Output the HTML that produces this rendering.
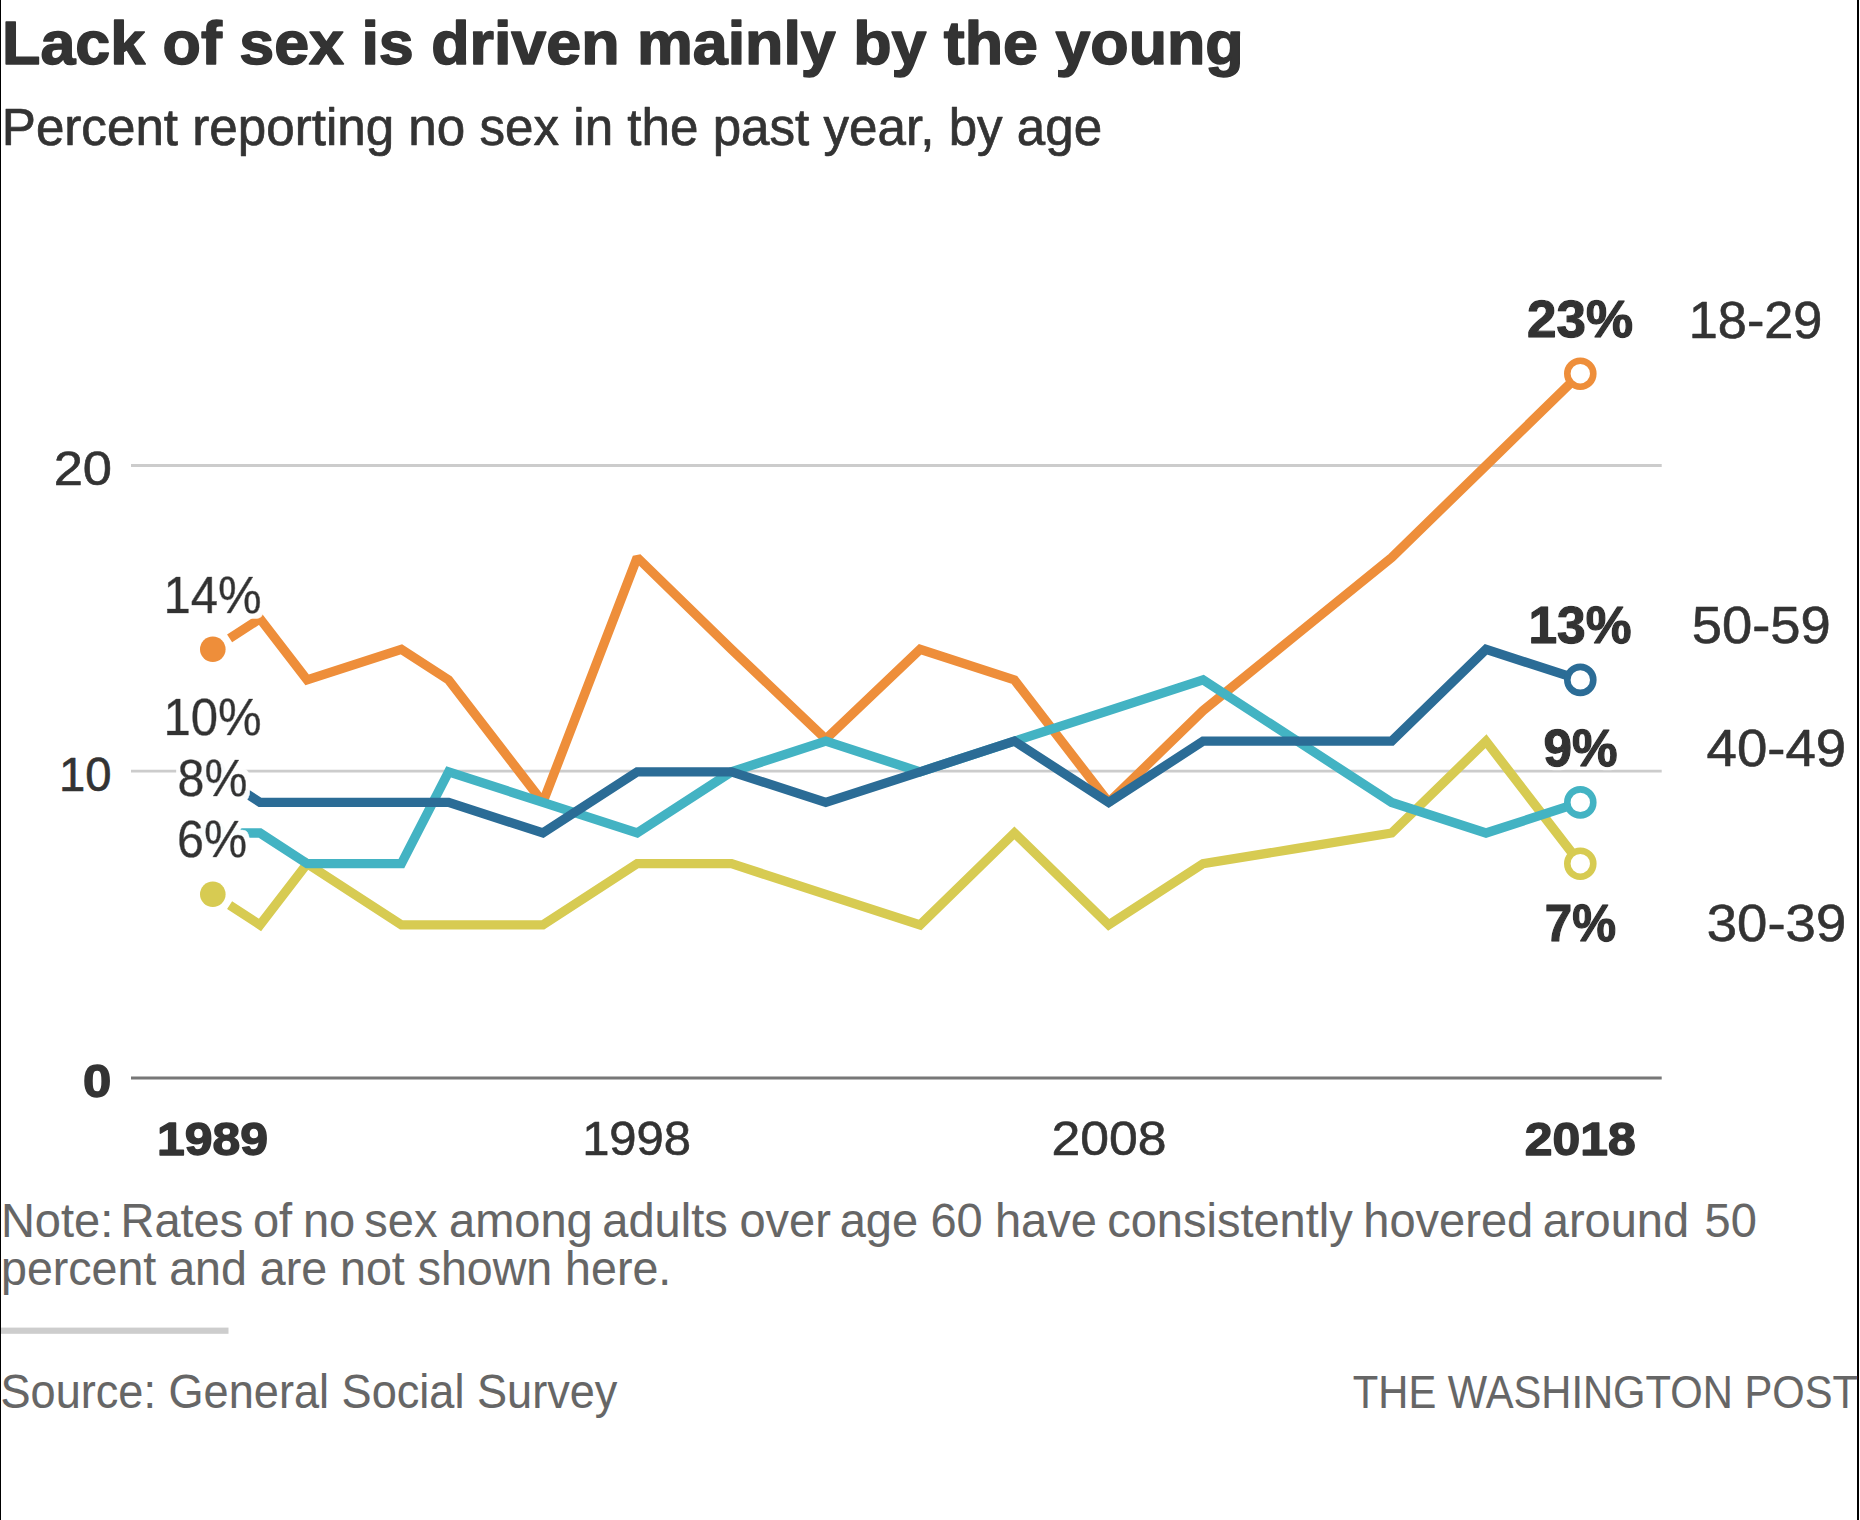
<!DOCTYPE html>
<html lang="en">
<head>
<meta charset="utf-8">
<title>Lack of sex is driven mainly by the young</title>
<style>
html,body{margin:0;padding:0;background:#fff}
body{width:1860px;height:1520px;overflow:hidden;position:relative}
svg{display:block;position:absolute;left:0;top:0}
svg text{font-family:"Liberation Sans", sans-serif;white-space:pre}
</style>
</head>
<body>
<svg width="1860" height="1520" viewBox="0 0 1860 1520" role="img" aria-label="Line chart: percent reporting no sex in the past year, by age, 1989 to 2018">
<rect x="0" y="0" width="1860" height="1520" fill="#fff"/>
<rect x="0" y="0" width="1" height="1520" fill="#000"/>
<rect x="1857" y="0" width="2" height="1520" fill="#000"/>
<defs><filter id="halo" x="-25%" y="-25%" width="150%" height="150%"><feMorphology in="SourceAlpha" operator="dilate" radius="4.5" result="d"/><feGaussianBlur in="d" stdDeviation="0.7" result="db"/><feFlood flood-color="#fff" flood-opacity="0.97"/><feComposite in2="db" operator="in" result="h"/><feMerge><feMergeNode in="h"/><feMergeNode in="SourceGraphic"/></feMerge></filter><filter id="halo2" x="-25%" y="-25%" width="150%" height="150%"><feMorphology in="SourceAlpha" operator="dilate" radius="3" result="d"/><feGaussianBlur in="d" stdDeviation="0.7" result="db"/><feFlood flood-color="#fff" flood-opacity="0.8"/><feComposite in2="db" operator="in" result="h"/><feMerge><feMergeNode in="h"/><feMergeNode in="SourceGraphic"/></feMerge></filter></defs>
<!-- chart: gridlines, series lines, markers -->
<g id="chart">
<g stroke="#ccc" stroke-width="2.8"><line x1="131" x2="1661.7" y1="465.5" y2="465.5"/><line x1="131" x2="1661.7" y1="771.2" y2="771.2"/></g>
<line x1="131" x2="1661.7" y1="1078" y2="1078" stroke="#777" stroke-width="3"/>
<path d="M229.6 638.4 L260.0 618.7 L307.1 679.9 L401.4 649.3 L448.6 679.9 L542.9 802.4 L637.2 557.5 L731.5 649.3 L825.8 739.0 L920.1 649.3 L1014.4 679.9 L1108.7 802.4 L1203.1 710.6 L1297.4 634.0 L1391.7 557.5 L1486.0 465.6 L1580.3 373.7" fill="none" stroke="#EE8E3A" stroke-width="9.3" stroke-linejoin="miter" stroke-miterlimit="1.45"/>
<path d="M229.6 905.2 L260.0 924.9 L307.1 863.7 L401.4 924.9 L448.6 924.9 L542.9 924.9 L637.2 863.7 L731.5 863.7 L825.8 894.3 L920.1 924.9 L1014.4 833.0 L1108.7 924.9 L1203.1 863.7 L1297.4 848.4 L1391.7 833.0 L1486.0 741.2 L1580.3 863.7" fill="none" stroke="#D7CB52" stroke-width="9.3" stroke-linejoin="miter" stroke-miterlimit="1.7"/>
<path d="M232.8 833.0 L260.0 833.0 L307.1 863.7 L401.4 863.7 L448.6 771.8 L542.9 802.4 L637.2 833.0 L731.5 771.8 L825.8 741.2 L920.1 771.8 L1014.4 741.2 L1108.7 710.6 L1203.1 679.9 L1297.4 741.2 L1391.7 802.4 L1486.0 833.0 L1580.3 802.4" fill="none" stroke="#43B3C3" stroke-width="9.3" stroke-linejoin="miter" stroke-miterlimit="1.7"/>
<path d="M229.6 782.7 L260.0 802.4 L307.1 802.4 L401.4 802.4 L448.6 802.4 L542.9 833.0 L637.2 771.8 L731.5 771.8 L825.8 802.4 L920.1 771.8 L1014.4 741.2 L1108.7 802.4 L1203.1 741.2 L1297.4 741.2 L1391.7 741.2 L1486.0 649.3 L1580.3 679.9" fill="none" stroke="#2B6C96" stroke-width="9.3" stroke-linejoin="miter" stroke-miterlimit="1.7"/>
<circle cx="212.8" cy="649.3" r="12.8" fill="#EE8E3A"/>
<circle cx="212.8" cy="894.3" r="12.8" fill="#D7CB52"/>
<circle cx="212.8" cy="833.0" r="12.8" fill="#43B3C3"/>
<circle cx="212.8" cy="771.8" r="12.8" fill="#2B6C96"/>
<circle cx="1580.3" cy="373.7" r="13" fill="#fff" stroke="#EE8E3A" stroke-width="6.6"/>
<circle cx="1580.3" cy="863.7" r="13" fill="#fff" stroke="#D7CB52" stroke-width="6.6"/>
<circle cx="1580.3" cy="802.4" r="13" fill="#fff" stroke="#43B3C3" stroke-width="6.6"/>
<circle cx="1580.3" cy="679.9" r="13" fill="#fff" stroke="#2B6C96" stroke-width="6.6"/>
</g>
<!-- footer rule -->
<rect x="1" y="1327.6" width="227.5" height="6.2" fill="#cdcdcd"/>
<!-- text -->
<g id="labels">
<text transform="translate(2.07 63.85) scale(1.0357 1)" font-weight="bold" font-size="60.61" fill="#333" stroke="#333" stroke-width="1.5" stroke-linejoin="round">Lack of sex is driven mainly by the young</text>
<text transform="translate(1.77 144.75) scale(1.0029 1)" font-weight="normal" font-size="51.02" fill="#333" stroke="#333" stroke-width="0.7" stroke-linejoin="round">Percent reporting no sex in the past year, by age</text>
<text transform="translate(53.67 484.80) scale(1.0935 1)" font-weight="normal" font-size="47.97" fill="#333" stroke="#333" stroke-width="0.6" stroke-linejoin="round">20</text>
<text transform="translate(58.96 791.40) scale(0.9842 1)" font-weight="normal" font-size="47.97" fill="#333" stroke="#333" stroke-width="0.6" stroke-linejoin="round">10</text>
<text transform="translate(82.95 1096.90) scale(1.0929 1)" font-weight="bold" font-size="46.51" fill="#333" stroke="#333" stroke-width="1.4" stroke-linejoin="round">0</text>
<text transform="translate(156.88 1155.00) scale(1.0766 1)" font-weight="bold" font-size="46.37" fill="#333" stroke="#333" stroke-width="1.4" stroke-linejoin="round">1989</text>
<text transform="translate(582.13 1155.40) scale(1.0307 1)" font-weight="normal" font-size="47.53" fill="#333" stroke="#333" stroke-width="0.6" stroke-linejoin="round">1998</text>
<text transform="translate(1051.58 1155.40) scale(1.0879 1)" font-weight="normal" font-size="47.53" fill="#333" stroke="#333" stroke-width="0.6" stroke-linejoin="round">2008</text>
<text transform="translate(1524.84 1155.00) scale(1.0752 1)" font-weight="bold" font-size="46.37" fill="#333" stroke="#333" stroke-width="1.4" stroke-linejoin="round">2018</text>
<text transform="translate(163.38 612.80) scale(0.9378 1)" font-weight="normal" font-size="52.33" fill="#333" stroke="#333" stroke-width="0.6" stroke-linejoin="round" filter="url(#halo)">14%</text>
<text transform="translate(163.38 735.30) scale(0.9378 1)" font-weight="normal" font-size="52.33" fill="#333" stroke="#333" stroke-width="0.6" stroke-linejoin="round" filter="url(#halo)">10%</text>
<text transform="translate(177.58 795.90) scale(0.9236 1)" font-weight="normal" font-size="52.33" fill="#333" stroke="#333" stroke-width="0.6" stroke-linejoin="round" filter="url(#halo)">8%</text>
<text transform="translate(177.06 857.00) scale(0.9280 1)" font-weight="normal" font-size="52.33" fill="#333" stroke="#333" stroke-width="0.6" stroke-linejoin="round" filter="url(#halo)">6%</text>
<text transform="translate(1527.10 337.30) scale(1.0385 1)" font-weight="bold" font-size="51.02" fill="#333" stroke="#333" stroke-width="1.4" stroke-linejoin="round" filter="url(#halo2)">23%</text>
<text transform="translate(1528.49 643.00) scale(1.0089 1)" font-weight="bold" font-size="51.02" fill="#333" stroke="#333" stroke-width="1.4" stroke-linejoin="round" filter="url(#halo2)">13%</text>
<text transform="translate(1543.43 765.50) scale(1.0046 1)" font-weight="bold" font-size="51.02" fill="#333" stroke="#333" stroke-width="1.4" stroke-linejoin="round" filter="url(#halo2)">9%</text>
<text transform="translate(1544.84 940.70) scale(0.9672 1)" font-weight="bold" font-size="51.02" fill="#333" stroke="#333" stroke-width="1.4" stroke-linejoin="round" filter="url(#halo2)">7%</text>
<text transform="translate(1688.75 337.70) scale(1.0016 1)" font-weight="normal" font-size="52.18" fill="#333" stroke="#333" stroke-width="0.6" stroke-linejoin="round">18-29</text>
<text transform="translate(1691.74 643.40) scale(1.0421 1)" font-weight="normal" font-size="52.18" fill="#333" stroke="#333" stroke-width="0.6" stroke-linejoin="round">50-59</text>
<text transform="translate(1706.54 765.90) scale(1.0467 1)" font-weight="normal" font-size="52.18" fill="#333" stroke="#333" stroke-width="0.6" stroke-linejoin="round">40-49</text>
<text transform="translate(1706.78 941.10) scale(1.0448 1)" font-weight="normal" font-size="52.18" fill="#333" stroke="#333" stroke-width="0.6" stroke-linejoin="round">30-39</text>
<text transform="translate(0 1236.85) scale(0.9858 1)" font-weight="normal" font-size="47.67" fill="#666" stroke="#666" stroke-width="0.1" stroke-linejoin="round"><tspan x="0.90">Note:</tspan> <tspan x="122.21">Rates</tspan> <tspan x="256.56">of</tspan> <tspan x="307.35">no</tspan> <tspan x="369.53">sex</tspan> <tspan x="455.50">among</tspan> <tspan x="610.98">adults</tspan> <tspan x="750.05">over</tspan> <tspan x="851.82">age</tspan> <tspan x="943.81">60</tspan> <tspan x="1009.28">have</tspan> <tspan x="1123.20">consistently</tspan> <tspan x="1383.00">hovered</tspan> <tspan x="1565.05">around</tspan> <tspan x="1729.16">50</tspan></text>
<text transform="translate(1.04 1285.45) scale(0.9764 1)" font-weight="normal" font-size="47.67" fill="#666" stroke="#666" stroke-width="0.1" stroke-linejoin="round">percent and are not shown here.</text>
<text transform="translate(0.52 1408.25) scale(0.9465 1)" font-weight="normal" font-size="47.67" fill="#666" stroke="#666" stroke-width="0.1" stroke-linejoin="round">Source: General Social Survey</text>
<text transform="translate(1352.83 1408.45) scale(0.8859 1)" font-weight="normal" font-size="47.09" fill="#666" stroke="#666" stroke-width="0.1" stroke-linejoin="round">THE WASHINGTON POST</text>
</g>
</svg>
</body>
</html>
